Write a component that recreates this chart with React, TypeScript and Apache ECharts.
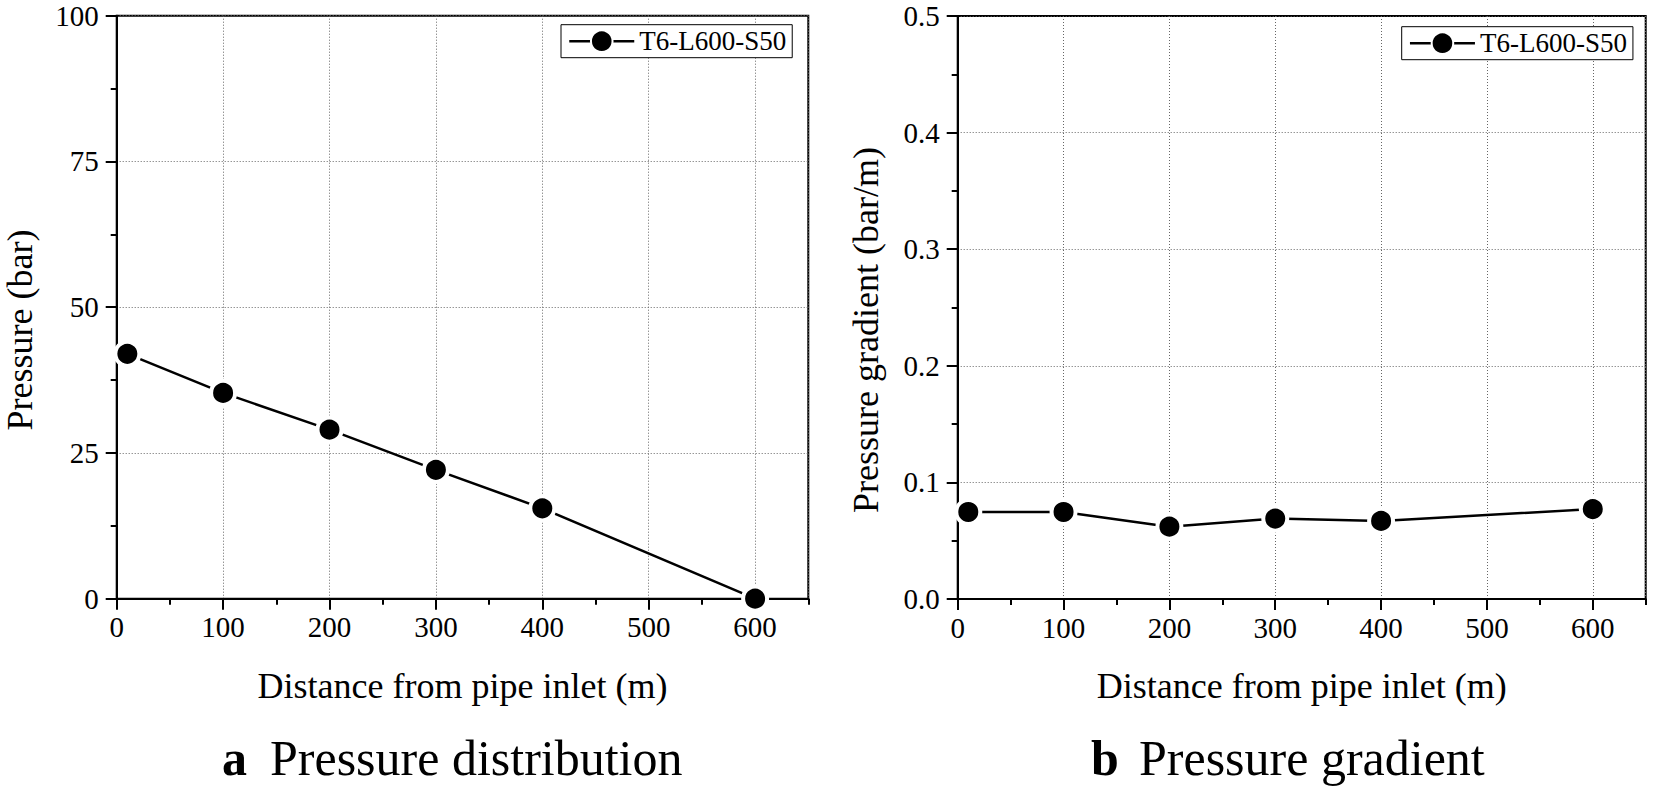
import React, { useEffect, useRef } from "react";
import * as echarts from "echarts";

const SERIES_NAME = "T6-L600-S50";
const distance = [10, 100, 200, 300, 400, 600];
const pressure = [42, 35.3, 29, 22.1, 15.5, 0];
const gradient = [0.0746, 0.0746, 0.062, 0.069, 0.067, 0.0771];

const xName = "Distance from pipe inlet (m)";
const yNameA = "Pressure (bar)";
const yNameB = "Pressure gradient (bar/m)";
const titleA = ["a", "Pressure distribution"];
const titleB = ["b", "Pressure gradient"];

const FONT = "'Liberation Serif', 'Times New Roman', serif";
const GRID_LINE = { type: [1, 2], color: "#666", width: 1 };

function majorX(gridIndex: number) {
  return {
    type: "value",
    gridIndex,
    min: 0,
    max: 650,
    interval: 100,
    axisLine: { show: true, onZero: false, lineStyle: { color: "#000", width: 2 } },
    axisTick: { show: true, inside: false, length: 11, lineStyle: { color: "#000", width: 2 } },
    axisLabel: { show: true, showMaxLabel: false, color: "#000", fontFamily: FONT, fontSize: 29, margin: 14 },
    splitLine: { show: true, lineStyle: GRID_LINE },
  };
}
function minorX(gridIndex: number) {
  return {
    type: "value",
    gridIndex,
    position: "bottom",
    min: 0,
    max: 650,
    interval: 50,
    axisLine: { show: false },
    axisTick: { show: true, inside: false, length: 6, lineStyle: { color: "#000", width: 2 } },
    axisLabel: { show: false },
    splitLine: { show: false },
  };
}
function majorY(gridIndex: number, max: number, interval: number, fmt: (v: number) => string) {
  return {
    type: "value",
    gridIndex,
    position: "left",
    min: 0,
    max,
    interval,
    axisLine: { show: true, onZero: false, lineStyle: { color: "#000", width: 2 } },
    axisTick: { show: true, inside: false, length: 11, lineStyle: { color: "#000", width: 2 } },
    axisLabel: { show: true, color: "#000", fontFamily: FONT, fontSize: 29, margin: 18, formatter: fmt },
    splitLine: { show: true, lineStyle: GRID_LINE },
  };
}
function minorY(gridIndex: number, max: number, interval: number) {
  return {
    type: "value",
    gridIndex,
    position: "left",
    min: 0,
    max,
    interval,
    axisLine: { show: false },
    axisTick: { show: true, inside: false, length: 6, lineStyle: { color: "#000", width: 2 } },
    axisLabel: { show: false },
    splitLine: { show: false },
  };
}

function textEl(text: string, x: number, y: number, size: number, opts: any = {}) {
  return {
    type: "text",
    x,
    y,
    rotation: opts.rotation || 0,
    style: {
      text,
      fill: "#000",
      font: `${opts.bold ? "bold " : ""}${size}px ${FONT}`,
      fontSize: size,
      fontFamily: FONT,
      fontWeight: opts.bold ? "bold" : "normal",
      align: opts.align || "center",
      textAlign: opts.align || "center",
      verticalAlign: "middle",
      textVerticalAlign: "middle",
    },
  };
}

function legendCfg(left: number, top: number) {
  return {
    data: [SERIES_NAME],
    left,
    top,
    orient: "horizontal",
    itemWidth: 65,
    itemHeight: 27,
    padding: [3, 6, 3, 7],
    backgroundColor: "#fff",
    borderColor: "#000",
    borderWidth: 1,
    borderRadius: 0,
    lineStyle: { color: "#000", width: 2.5 },
    textStyle: { color: "#000", fontFamily: FONT, fontSize: 27 },
  };
}

function lineSeries(xIdx: number, yIdx: number, ys: number[]) {
  return {
    type: "line",
    name: SERIES_NAME,
    xAxisIndex: xIdx,
    yAxisIndex: yIdx,
    data: distance.map((d, i) => [d, ys[i]]),
    symbol: "circle",
    symbolSize: 24,
    lineStyle: { color: "#000", width: 2.5 },
    itemStyle: { color: "#000", borderColor: "#fff", borderWidth: 4 },
    z: 3,
  };
}

export default function App() {
  const ref = useRef<HTMLDivElement>(null);
  useEffect(() => {
    if (!ref.current) return;
    const chart = echarts.init(ref.current, null, { renderer: "svg" });
    const gridBase = { show: true, borderColor: "#000", borderWidth: 2, backgroundColor: "transparent", containLabel: false };
    chart.setOption({
      animation: false,
      backgroundColor: "#fff",
      textStyle: { fontFamily: FONT },
      grid: [
        { ...gridBase, left: 116.7, top: 15.7, width: 691.6, height: 583 },
        { ...gridBase, left: 957.7, top: 16, width: 688, height: 583 },
      ],
      xAxis: [majorX(0), minorX(0), majorX(1), minorX(1)],
      yAxis: [
        majorY(0, 100, 25, (v: number) => String(v)),
        minorY(0, 100, 12.5),
        majorY(1, 0.5, 0.1, (v: number) => v.toFixed(1)),
        minorY(1, 0.5, 0.05),
      ],
      legend: [legendCfg(561, 24.7), legendCfg(1401.7, 26.7)],
      series: [lineSeries(0, 0, pressure), lineSeries(2, 2, gradient)],
      graphic: [
        textEl(yNameA, 20, 330, 36, { rotation: Math.PI / 2 }),
        textEl(yNameB, 866, 330, 36, { rotation: Math.PI / 2 }),
        textEl(xName, 462.5, 686, 36),
        textEl(xName, 1301.7, 686, 36),
        textEl(titleA[0], 222, 758, 50, { bold: true, align: "left" }),
        textEl(titleA[1], 270, 758, 50, { align: "left" }),
        textEl(titleB[0], 1091, 758, 50, { bold: true, align: "left" }),
        textEl(titleB[1], 1139, 758, 50, { align: "left" }),
      ],
    });
    return () => chart.dispose();
  }, []);
  return (
    <div
      ref={ref}
      style={{ position: "fixed", left: 0, top: 0, width: 1654, height: 789, background: "#fff" }}
    />
  );
}
